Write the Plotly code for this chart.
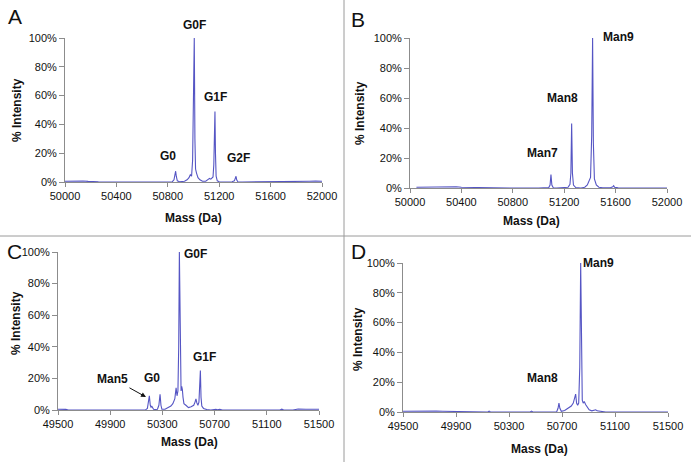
import plotly.graph_objects as go

# ---------------- data ----------------
A_mass = [50000, 50030, 50060, 50100, 50140, 50180, 50210, 50260, 50400, 50600,
          50800, 50835, 50848, 50856, 50861, 50866, 50874, 50890, 50930, 50950,
          50965, 50975, 50985, 50993, 50999, 51006, 51011, 51016, 51024, 51035,
          51050, 51070, 51095, 51110, 51125, 51135, 51145, 51152, 51158, 51163,
          51167, 51171, 51176, 51185, 51200, 51250, 51300, 51318, 51326, 51331,
          51336, 51345, 51380, 51500, 51700, 51880, 51900, 51950, 52000]
A_int = [0.5, 0.6, 0.8, 0.6, 0.7, 0.4, 0.2, 0.1, 0.0, 0.0,
         0.0, 0.2, 1.5, 4.5, 7.5, 4.0, 0.8, 0.2, 0.5, 1.5,
         3.0, 5.0, 4.0, 15, 55, 100, 30, 9.0, 6.0, 3.0,
         1.5, 0.5, 0.5, 1.5, 2.5, 2.0, 3.0, 3.5, 12, 35,
         49, 20, 4.0, 0.8, 0.2, 0.0, 0.2, 0.8, 2.5, 4.0,
         1.5, 0.2, 0.0, 0.0, 0.0, 0.1, 0.5, 0.6, 0.5]

B_mass = [50050, 50100, 50150, 50200, 50250, 50300, 50330, 50345, 50360, 50400,
          50500, 50600, 50800, 51000, 51060, 51080, 51090, 51097, 51104, 51115,
          51140, 51200, 51230, 51245, 51252, 51258, 51264, 51272, 51290, 51330,
          51360, 51380, 51395, 51405, 51414, 51421, 51427, 51435, 51450, 51470,
          51500, 51560, 51578, 51585, 51592, 51620, 51800, 52000]
B_int = [0.5, 0.6, 0.5, 0.6, 0.5, 0.6, 0.9, 1.0, 0.8, 0.5,
         0.3, 0.1, 0.0, 0.0, 0.0, 0.3, 2.0, 9.0, 2.0, 0.2,
         0.0, 0.0, 0.5, 2.5, 10, 43, 10, 2.0, 0.3, 0.0,
         0.5, 2.0, 5.0, 7.0, 35, 100, 30, 6.0, 2.0, 0.5,
         0.2, 0.2, 0.8, 1.5, 0.5, 0.1, 0.0, 0.0]

C_mass = [49500, 49530, 49560, 49580, 49700, 49900, 50100, 50170, 50185, 50193,
          50200, 50207, 50213, 50218, 50225, 50232, 50245, 50262, 50273, 50282,
          50289, 50296, 50320, 50345, 50365, 50380, 50395, 50405, 50412, 50419,
          50425, 50430, 50434, 50438, 50443, 50448, 50453, 50458, 50465, 50480,
          50500, 50520, 50540, 50550, 50557, 50564, 50572, 50580, 50586, 50591,
          50596, 50602, 50615, 50640, 50670, 50700, 50710, 50720, 50740, 50760,
          50900, 51200, 51215, 51230, 51300, 51330, 51340, 51400, 51450, 51500]
C_int = [0.5, 0.5, 0.4, 0.0, 0.0, 0.0, 0.0, 0.1, 1.0, 5.0,
         9.0, 3.0, 1.5, 2.5, 1.0, 0.5, 0.3, 0.5, 3.0, 10,
         3.0, 0.5, 0.5, 1.5, 2.5, 4.0, 7.0, 14, 9.0, 12,
         40, 100, 60, 15, 12, 15, 13, 8.0, 4.0, 3.0,
         1.5, 2.0, 3.0, 5.0, 7.0, 4.5, 3.0, 5.0, 15, 25,
         8.0, 2.5, 1.0, 0.3, 0.0, 0.3, 0.5, 0.1, 0.5, 0.0,
         0.0, 0.0, 0.5, 0.0, 0.0, 0.5, 0.6, 0.5, 0.6, 0.5]

D_mass = [49500, 49550, 49600, 49650, 49700, 49750, 49800, 49850, 49870, 50000,
          50140, 50150, 50160, 50300, 50460, 50470, 50480, 50600, 50660, 50670,
          50677, 50684, 50695, 50720, 50750, 50770, 50785, 50795, 50803, 50810,
          50818, 50826, 50834, 50841, 50847, 50853, 50860, 50868, 50878, 50890,
          50905, 50925, 50945, 50955, 50965, 50990, 51030, 51100, 51300, 51500]
D_int = [0.5, 0.6, 0.5, 0.6, 0.5, 0.6, 0.5, 0.5, 0.1, 0.0,
         0.0, 0.6, 0.0, 0.0, 0.0, 0.6, 0.0, 0.0, 0.2, 2.5,
         6.0, 2.5, 0.5, 1.0, 3.0, 4.0, 6.0, 9.0, 12, 6.0,
         4.5, 6.0, 30, 100, 35, 8.0, 6.0, 7.0, 5.0, 3.0,
         1.5, 0.8, 1.0, 1.5, 0.8, 0.5, 0.0, 0.0, 0.0, 0.0]

ticks_AB = [50000, 50400, 50800, 51200, 51600, 52000]
ticks_CD = [49500, 49900, 50300, 50700, 51100, 51500]
y_ticks = [0, 20, 40, 60, 80, 100]

panel_letters = ["A", "B", "C", "D"]

# ---------------- layout helpers ----------------
W, H = 691, 462
FONT = "Liberation Sans, Arial, sans-serif"
LINE = "#5555c4"
AXIS = "#8c8c8c"

def fx(px):
    return px / W

def fy(py):
    return 1 - py / H

# pixel boxes: (left, right, top, bottom)
boxes = [(65, 322, 38, 182), (410, 667, 38, 188), (58, 319, 252, 410), (403, 668, 263, 412)]
data = [(A_mass, A_int), (B_mass, B_int), (C_mass, C_int), (D_mass, D_int)]
xticks = [ticks_AB, ticks_AB, ticks_CD, ticks_CD]

fig = go.Figure()
layout = dict(width=W, height=H, margin=dict(l=0, r=0, t=0, b=0, autoexpand=False),
              paper_bgcolor="white", plot_bgcolor="white", showlegend=False,
              font=dict(family=FONT, size=11, color="#111"))

for i, ((m, v), box, xt) in enumerate(zip(data, boxes, xticks)):
    n = "" if i == 0 else str(i + 1)
    fig.add_trace(go.Scatter(x=m, y=v, mode="lines", line=dict(color=LINE, width=1.1),
                             xaxis="x" + n, yaxis="y" + n, hoverinfo="skip"))
    l, r, t, b = box
    layout["xaxis" + n] = dict(domain=[fx(l), fx(r)], anchor="y" + n, range=[xt[0], xt[-1]],
                               tickvals=xt, ticktext=[str(t_) for t_ in xt], automargin=False,
                               showgrid=False, zeroline=False, showline=True, linecolor=AXIS,
                               linewidth=1, ticks="outside", ticklen=4, tickcolor=AXIS,
                               tickfont=dict(size=11, family=FONT, color="#111"))
    layout["yaxis" + n] = dict(domain=[fy(b), fy(t)], anchor="x" + n, range=[0, 100],
                               tickvals=y_ticks, ticktext=[f"{t_}%" for t_ in y_ticks],
                               automargin=False,
                               showgrid=False, zeroline=False, showline=True, linecolor=AXIS,
                               linewidth=1, ticks="outside", ticklen=5, tickcolor=AXIS,
                               tickfont=dict(size=11, family=FONT, color="#111"))

fig.update_layout(**layout)

ann = []
def txt(x, y, s, size=12, bold=True, angle=0, xanchor="center"):
    ann.append(dict(x=fx(x), y=fy(y), xref="paper", yref="paper", text=(f"<b>{s}</b>" if bold else s),
                    showarrow=False, textangle=angle, xanchor=xanchor, yanchor="middle",
                    font=dict(family=FONT, size=size, color="#111")))

# panel letters
for s, (x, y) in zip(panel_letters, [(15, 16), (358, 20), (14, 252), (358, 252)]):
    txt(x, y, s, size=21, bold=False)

# axis titles
for (x, y) in [(193, 218), (531, 221), (189, 442), (539, 449)]:
    txt(x, y, "Mass (Da)")
for (x, y) in [(17, 110), (360, 113), (16, 323), (358, 339)]:
    txt(x, y, "% Intensity", angle=-90)

# peak labels
peak_labels = [("G0F", 194, 25), ("G1F", 215, 97), ("G0", 168, 156), ("G2F", 238, 158),
               ("Man9", 618, 37), ("Man8", 562, 98), ("Man7", 542, 153),
               ("G0F", 195, 254), ("G1F", 204, 357), ("G0", 152, 378), ("Man5", 113, 379),
               ("Man9", 598, 263), ("Man8", 542, 378)]
for s, x, y in peak_labels:
    txt(x, y, s)

# arrow to Man5 peak
ann.append(dict(x=fx(146), y=fy(397), xref="paper", yref="paper",
                ax=-18, ay=-10, axref="pixel", ayref="pixel", text="", showarrow=True,
                arrowhead=2, arrowsize=1, arrowwidth=1, arrowcolor="#111"))

fig.update_layout(annotations=ann)

# panel dividers
fig.add_shape(type="line", xref="paper", yref="paper", x0=fx(344), x1=fx(344), y0=0, y1=1,
              line=dict(color="#9a9a9a", width=1))
fig.add_shape(type="line", xref="paper", yref="paper", x0=0, x1=1, y0=fy(236), y1=fy(236),
              line=dict(color="#9a9a9a", width=1))

fig.write_html("out.html", config={"displayModeBar": False, "staticPlot": True},
               post_script="document.body.style.margin='0';document.body.style.overflow='hidden';")
